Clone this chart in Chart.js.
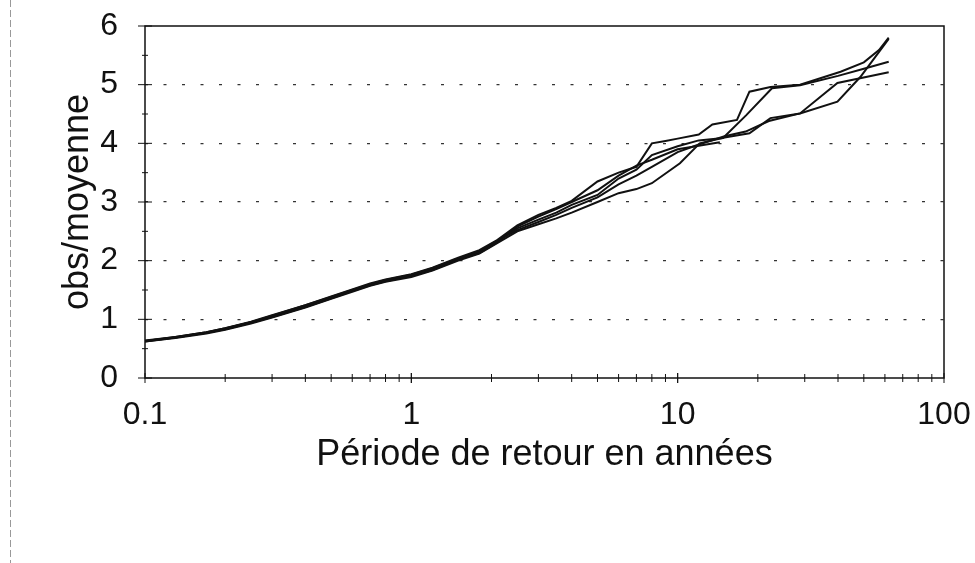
<!DOCTYPE html>
<html>
<head>
<meta charset="utf-8">
<script src="https://cdn.jsdelivr.net/npm/chart.js@4.4.0/dist/chart.umd.min.js"></script>
<style>
html, body { margin: 0; padding: 0; background: #fff; }
canvas { display: block; }
</style>
</head>
<body>
<canvas id="myChart" width="975" height="563"></canvas>
<script>
// return periods (years) and obs/mean for the five stations
const periods1 = [0.1, 0.13, 0.17, 0.2, 0.25, 0.3, 0.4, 0.5, 0.6, 0.7, 0.8, 1, 1.2, 1.5, 1.8, 2.1, 2.5, 3, 3.5, 4, 5, 6, 7, 8, 9, 10, 12, 13.5, 16.7, 18.6, 22.3, 28.8, 40.9, 50, 57, 62];
const values1  = [0.64, 0.70, 0.78, 0.85, 0.96, 1.07, 1.24, 1.39, 1.51, 1.61, 1.68, 1.77, 1.88, 2.05, 2.18, 2.35, 2.6, 2.78, 2.9, 3.02, 3.35, 3.5, 3.6, 4.0, 4.04, 4.08, 4.15, 4.32, 4.4, 4.88, 4.96, 5.0, 5.22, 5.38, 5.59, 5.8];

const periods2 = [0.1, 0.13, 0.17, 0.2, 0.25, 0.3, 0.4, 0.5, 0.6, 0.7, 0.8, 1, 1.2, 1.5, 1.8, 2.1, 2.5, 3, 3.5, 4, 5, 6, 7, 8, 10, 12, 14.8, 18.1, 22.6, 28.8, 40, 50, 62];
const values2  = [0.63, 0.69, 0.77, 0.84, 0.95, 1.05, 1.22, 1.37, 1.49, 1.59, 1.66, 1.75, 1.86, 2.03, 2.15, 2.33, 2.55, 2.7, 2.82, 2.95, 3.12, 3.4, 3.55, 3.8, 3.95, 4.05, 4.09, 4.48, 4.94, 4.99, 5.15, 5.27, 5.39];

const periods3 = [0.1, 0.13, 0.17, 0.2, 0.25, 0.3, 0.4, 0.5, 0.6, 0.7, 0.8, 1, 1.2, 1.5, 1.8, 2.1, 2.5, 3, 3.5, 4, 5, 6, 7, 8, 10.2, 12.1, 15, 18.6, 22.3, 28.8, 39.8, 48.5, 62];
const values3  = [0.62, 0.68, 0.76, 0.82, 0.93, 1.03, 1.2, 1.35, 1.47, 1.57, 1.64, 1.72, 1.83, 2.0, 2.12, 2.3, 2.5, 2.62, 2.72, 2.82, 3.0, 3.15, 3.22, 3.32, 3.66, 4.0, 4.1, 4.17, 4.43, 4.51, 4.71, 5.13, 5.78];

const periods4 = [0.1, 0.13, 0.17, 0.2, 0.25, 0.3, 0.4, 0.5, 0.6, 0.7, 0.8, 1, 1.2, 1.5, 1.8, 2.1, 2.5, 3, 3.5, 4, 5, 6, 7, 8, 10, 12, 15, 18, 22, 28.8, 39.8, 62];
const values4  = [0.63, 0.70, 0.78, 0.85, 0.95, 1.06, 1.24, 1.38, 1.5, 1.6, 1.67, 1.76, 1.87, 2.04, 2.16, 2.34, 2.52, 2.66, 2.78, 2.9, 3.08, 3.3, 3.45, 3.6, 3.85, 3.98, 4.12, 4.2, 4.38, 4.51, 5.03, 5.21];

const periods5 = [0.1, 0.13, 0.17, 0.2, 0.25, 0.3, 0.4, 0.5, 0.6, 0.7, 0.8, 1, 1.2, 1.5, 1.8, 2.1, 2.5, 3, 3.5, 4, 5, 6, 7, 8, 10, 12, 14.4];
const values5  = [0.62, 0.69, 0.77, 0.83, 0.94, 1.04, 1.21, 1.36, 1.48, 1.58, 1.65, 1.74, 1.84, 2.02, 2.13, 2.31, 2.58, 2.75, 2.88, 3.0, 3.2, 3.45, 3.62, 3.72, 3.9, 3.96, 4.02];

const xTickValues = [0.1, 1, 10, 100];
const yTickMin = 0;
const yTickMax = 6;

const allPeriods = [periods1, periods2, periods3, periods4, periods5];
const allValues = [values1, values2, values3, values4, values5];

Chart.defaults.font.family = '"Liberation Sans", Arial, sans-serif';
Chart.defaults.color = '#111';

// box, crossing tick marks and the scanned page edge
const frame = {
    id: 'frame',
    afterDraw(chart) {
        const {ctx, chartArea: a, scales: {x, y}} = chart;
        ctx.save();
        ctx.strokeStyle = '#999';
        ctx.lineWidth = 1;
        ctx.setLineDash([7, 3]);
        ctx.beginPath();
        ctx.moveTo(10.5, 0);
        ctx.lineTo(10.5, chart.height);
        ctx.stroke();
        ctx.setLineDash([]);

        ctx.strokeStyle = '#111';
        ctx.lineWidth = 1.5;
        ctx.strokeRect(a.left, a.top, a.right - a.left, a.bottom - a.top);

        ctx.lineWidth = 1;
        ctx.beginPath();
        for (let v = yTickMin; v <= yTickMax; v += 0.5) {
            const py = y.getPixelForValue(v);
            const h = v % 1 === 0 ? 7 : 3;
            ctx.moveTo(a.left - h, py);
            ctx.lineTo(a.left + h, py);
        }
        for (const d of [0.1, 1, 10]) {
            for (let k = 1; k <= 10; k++) {
                const px = x.getPixelForValue(d * k);
                const h = (k === 1 || k === 10) ? 5 : 4;
                ctx.moveTo(px, a.bottom - h);
                ctx.lineTo(px, a.bottom + h);
            }
        }
        ctx.stroke();
        ctx.restore();
    }
};

const datasets = allPeriods.map((xs, i) => ({
    label: 'station ' + (i + 1),
    data: xs.map((p, j) => ({x: p, y: allValues[i][j]})),
    borderColor: '#111',
    borderWidth: 2,
    pointRadius: 0,
    tension: 0,
    fill: false
}));

const ctx = document.getElementById('myChart').getContext('2d');
const myChart = new Chart(ctx, {
    type: 'line',
    data: { datasets: datasets },
    options: {
        responsive: false,
        animation: false,
        devicePixelRatio: 1,
        layout: { padding: { left: 0, right: 31, top: 26, bottom: 0 } },
        plugins: {
            legend: { display: false },
            tooltip: { enabled: false }
        },
        scales: {
            x: {
                type: 'logarithmic',
                min: 0.1,
                max: 100,
                afterBuildTicks: (scale) => {
                    scale.ticks = xTickValues.map(v => ({value: v}));
                },
                afterFit: (scale) => {
                    scale.height = 185;
                    scale.paddingLeft = 0;
                    scale.paddingRight = 0;
                },
                grid: { display: false, drawTicks: false },
                border: { display: false },
                ticks: {
                    padding: 18,
                    maxRotation: 0,
                    font: { size: 32 },
                    callback: (v) => String(v)
                },
                title: {
                    display: true,
                    text: 'Période de retour en années',
                    font: { size: 36 },
                    padding: { top: 0, bottom: 86 }
                }
            },
            y: {
                min: yTickMin,
                max: yTickMax,
                afterFit: (scale) => {
                    scale.width = 145;
                    scale.paddingTop = 0;
                    scale.paddingBottom = 0;
                },
                grid: {
                    drawTicks: false,
                    lineWidth: 1.2,
                    color: (c) => (c.tick && (c.tick.value === yTickMin || c.tick.value === yTickMax)) ? 'rgba(0,0,0,0)' : '#333'
                },
                border: { display: false, dash: [3, 15.5] },
                ticks: {
                    stepSize: 1,
                    padding: 27,
                    font: { size: 32 }
                },
                title: {
                    display: true,
                    text: 'obs/moyenne',
                    font: { size: 36 },
                    padding: { top: 56, bottom: 0 }
                }
            }
        }
    },
    plugins: [frame]
});
</script>
</body>
</html>
